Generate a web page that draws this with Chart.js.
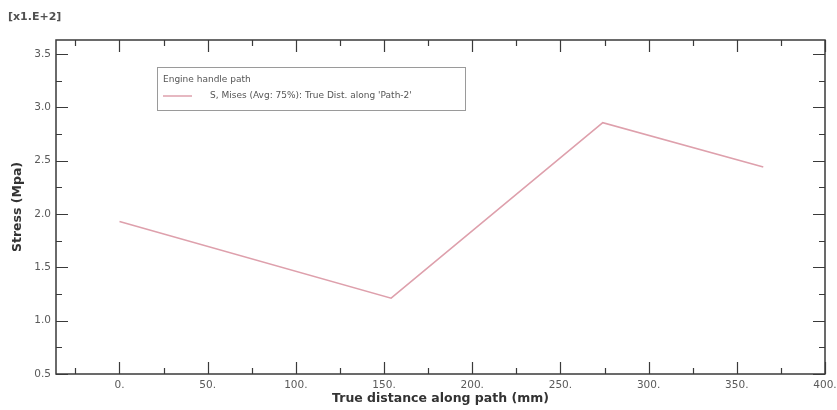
<!DOCTYPE html>
<html>
<head>
<meta charset="utf-8">
<script src="https://cdn.jsdelivr.net/npm/chart.js@4"></script>
<style>
  html, body { margin: 0; padding: 0; background: #ffffff; }
  #wrap { width: 837px; height: 410px; position: relative; }
</style>
</head>
<body>
<div id="wrap"><canvas id="pathChart"></canvas></div>
<script>
// path distance (mm) and stress (x1.E+2 MPa)
const distances = [0, 154, 274, 365];
const stresses = [1.93, 1.21, 2.855, 2.44];

const xMajorTicks = [0, 50, 100, 150, 200, 250, 300, 350, 400];
const xMinorTicks = [-25, 25, 75, 125, 175, 225, 275, 325, 375];
const yMajorTicks = [0.5, 1.0, 1.5, 2.0, 2.5, 3.0, 3.5];
const yMinorTicks = [0.75, 1.25, 1.75, 2.25, 2.75, 3.25];

const legendTitle = "Engine handle path";
const seriesLabel = "S, Mises (Avg: 75%): True Dist. along 'Path-2'";
const scaleNote = "[x1.E+2]";

const lineColor = "#dea0ac";

const frameAndTicks = {
  id: "frameAndTicks",
  afterDatasetsDraw(chart) {
    const { ctx, chartArea: a, scales } = chart;
    const x = scales.x, y = scales.y;
    ctx.save();
    ctx.strokeStyle = "#3a3a3a";
    ctx.lineWidth = 1.5;
    ctx.strokeRect(a.left, a.top, a.right - a.left, a.bottom - a.top);

    ctx.lineWidth = 1.2;
    ctx.beginPath();
    xMajorTicks.forEach(v => {
      const px = Math.round(x.getPixelForValue(v)) + 0.5;
      ctx.moveTo(px, a.bottom); ctx.lineTo(px, a.bottom - 12);
      ctx.moveTo(px, a.top); ctx.lineTo(px, a.top + 12);
    });
    xMinorTicks.forEach(v => {
      const px = Math.round(x.getPixelForValue(v)) + 0.5;
      ctx.moveTo(px, a.bottom); ctx.lineTo(px, a.bottom - 6);
      ctx.moveTo(px, a.top); ctx.lineTo(px, a.top + 6);
    });
    yMajorTicks.forEach(v => {
      const py = Math.round(y.getPixelForValue(v)) + 0.5;
      ctx.moveTo(a.left, py); ctx.lineTo(a.left + 12, py);
      ctx.moveTo(a.right, py); ctx.lineTo(a.right - 12, py);
    });
    yMinorTicks.forEach(v => {
      const py = Math.round(y.getPixelForValue(v)) + 0.5;
      ctx.moveTo(a.left, py); ctx.lineTo(a.left + 6, py);
      ctx.moveTo(a.right, py); ctx.lineTo(a.right - 6, py);
    });
    ctx.stroke();

    // legend box
    ctx.strokeStyle = "#9a9a9a";
    ctx.lineWidth = 1;
    ctx.strokeRect(157.5, 67.5, 308, 43);
    ctx.fillStyle = "#555555";
    ctx.font = "9px 'DejaVu Sans'";
    ctx.textBaseline = "middle";
    ctx.fillText(legendTitle, 163, 80);
    ctx.fillText(seriesLabel, 210, 96);
    ctx.strokeStyle = lineColor;
    ctx.lineWidth = 1.5;
    ctx.beginPath();
    ctx.moveTo(163, 96); ctx.lineTo(192, 96);
    ctx.stroke();

    ctx.fillStyle = "#505050";
    ctx.font = "bold 11px 'DejaVu Sans'";
    ctx.fillText(scaleNote, 8, 17);
    ctx.restore();
  }
};

new Chart(document.getElementById("pathChart"), {
  type: "line",
  data: {
    datasets: [{
      label: seriesLabel,
      data: distances.map((d, i) => ({ x: d, y: stresses[i] })),
      borderColor: lineColor,
      borderWidth: 1.6,
      pointRadius: 0,
      fill: false,
      tension: 0
    }]
  },
  options: {
    responsive: true,
    maintainAspectRatio: false,
    animation: false,
    layout: { padding: { top: 40, right: 12, left: 0, bottom: 0 } },
    plugins: {
      legend: { display: false },
      tooltip: { enabled: false }
    },
    scales: {
      x: {
        type: "linear",
        min: -36,
        max: 400,
        afterBuildTicks: scale => { scale.ticks = xMajorTicks.map(v => ({ value: v })); },
        afterFit: scale => {
          scale.height = 36;
          scale.paddingLeft = 0;
          scale.paddingRight = 0;
        },
        grid: { display: false, drawTicks: false },
        border: { display: false },
        ticks: {
          padding: 5,
          color: "#5a5a5a",
          font: { family: "DejaVu Sans", size: 10.5 },
          callback: value => value + "."
        },
        title: {
          display: true,
          text: "True distance along path (mm)",
          color: "#333333",
          font: { family: "DejaVu Sans", size: 12.5, weight: "bold" },
          padding: { top: 4, bottom: 4 }
        }
      },
      y: {
        type: "linear",
        min: 0.5,
        max: 3.63,
        afterBuildTicks: scale => { scale.ticks = yMajorTicks.map(v => ({ value: v })); },
        afterFit: scale => { scale.width = 56; },
        grid: { display: false, drawTicks: false },
        border: { display: false },
        ticks: {
          padding: 5,
          color: "#5a5a5a",
          font: { family: "DejaVu Sans", size: 10.5 },
          callback: value => value.toFixed(1)
        },
        title: {
          display: true,
          text: "Stress (Mpa)",
          color: "#333333",
          font: { family: "DejaVu Sans", size: 12.5, weight: "bold" },
          padding: { top: 10, bottom: 10 }
        }
      }
    }
  },
  plugins: [frameAndTicks]
});
</script>
</body>
</html>
